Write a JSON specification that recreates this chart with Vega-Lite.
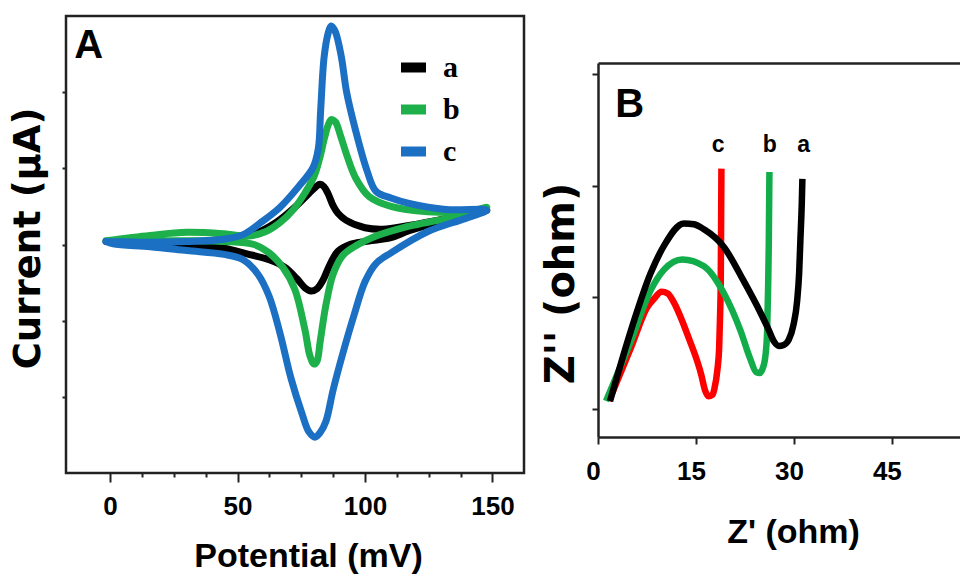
{
  "$schema": "https://vega.github.io/schema/vega-lite/v6.json",
  "background": "white",
  "padding": {"left": 7, "top": 14, "right": 0, "bottom": 0},
  "spacing": 15,
  "config": {
    "view": {"stroke": "#222222", "strokeWidth": 2.5},
    "axis": {"grid": false, "labelColor": "#000000", "titleColor": "#000000", "tickColor": "#222222", "domainColor": "#222222"}
  },
  "resolve": {"scale": {"x": "independent", "y": "independent", "color": "independent"}},
  "datasets": {
    "cv": [
      {"s": "a", "i": 1, "x": -1.6, "y": 0.4},
      {"s": "a", "i": 2, "x": 15.7, "y": 0.3},
      {"s": "a", "i": 3, "x": 30.2, "y": 0.3},
      {"s": "a", "i": 4, "x": 44.7, "y": 0.7},
      {"s": "a", "i": 5, "x": 56.5, "y": 1.4},
      {"s": "a", "i": 6, "x": 65.1, "y": 2.9},
      {"s": "a", "i": 7, "x": 72.5, "y": 4.9},
      {"s": "a", "i": 8, "x": 78.0, "y": 6.7},
      {"s": "a", "i": 9, "x": 80.8, "y": 7.6},
      {"s": "a", "i": 10, "x": 82.4, "y": 7.9},
      {"s": "a", "i": 11, "x": 83.9, "y": 7.6},
      {"s": "a", "i": 12, "x": 85.5, "y": 6.7},
      {"s": "a", "i": 13, "x": 87.5, "y": 5.1},
      {"s": "a", "i": 14, "x": 89.4, "y": 4.1},
      {"s": "a", "i": 15, "x": 92.5, "y": 3.2},
      {"s": "a", "i": 16, "x": 100.0, "y": 2.2},
      {"s": "a", "i": 17, "x": 107.1, "y": 2.0},
      {"s": "a", "i": 18, "x": 117.3, "y": 2.5},
      {"s": "a", "i": 19, "x": 131.8, "y": 3.4},
      {"s": "a", "i": 20, "x": 147.8, "y": 4.5},
      {"s": "a", "i": 21, "x": 131.8, "y": 3.2},
      {"s": "a", "i": 22, "x": 117.3, "y": 1.8},
      {"s": "a", "i": 23, "x": 110.2, "y": 0.9},
      {"s": "a", "i": 24, "x": 100.0, "y": 0.4},
      {"s": "a", "i": 25, "x": 94.1, "y": 0.0},
      {"s": "a", "i": 26, "x": 89.4, "y": -0.9},
      {"s": "a", "i": 27, "x": 86.3, "y": -2.6},
      {"s": "a", "i": 28, "x": 83.5, "y": -4.7},
      {"s": "a", "i": 29, "x": 81.2, "y": -5.8},
      {"s": "a", "i": 30, "x": 78.8, "y": -6.1},
      {"s": "a", "i": 31, "x": 76.5, "y": -5.7},
      {"s": "a", "i": 32, "x": 73.3, "y": -4.5},
      {"s": "a", "i": 33, "x": 68.6, "y": -3.0},
      {"s": "a", "i": 34, "x": 62.4, "y": -2.0},
      {"s": "a", "i": 35, "x": 53.3, "y": -1.2},
      {"s": "a", "i": 36, "x": 44.7, "y": -0.5},
      {"s": "a", "i": 37, "x": 30.2, "y": -0.1},
      {"s": "a", "i": 38, "x": 15.7, "y": 0.1},
      {"s": "a", "i": 39, "x": -1.6, "y": 0.4},
      {"s": "b", "i": 1, "x": -1.6, "y": 0.5},
      {"s": "b", "i": 2, "x": 15.7, "y": 1.2},
      {"s": "b", "i": 3, "x": 30.2, "y": 1.6},
      {"s": "b", "i": 4, "x": 44.7, "y": 1.4},
      {"s": "b", "i": 5, "x": 53.7, "y": 1.1},
      {"s": "b", "i": 6, "x": 60.4, "y": 1.6},
      {"s": "b", "i": 7, "x": 66.7, "y": 2.9},
      {"s": "b", "i": 8, "x": 72.2, "y": 4.7},
      {"s": "b", "i": 9, "x": 76.5, "y": 6.8},
      {"s": "b", "i": 10, "x": 80.0, "y": 8.9},
      {"s": "b", "i": 11, "x": 82.3, "y": 11.4},
      {"s": "b", "i": 12, "x": 84.2, "y": 14.1},
      {"s": "b", "i": 13, "x": 85.7, "y": 15.8},
      {"s": "b", "i": 14, "x": 86.8, "y": 16.4},
      {"s": "b", "i": 15, "x": 88.4, "y": 16.1},
      {"s": "b", "i": 16, "x": 90.4, "y": 14.3},
      {"s": "b", "i": 17, "x": 92.9, "y": 11.7},
      {"s": "b", "i": 18, "x": 96.4, "y": 8.7},
      {"s": "b", "i": 19, "x": 101.6, "y": 6.3},
      {"s": "b", "i": 20, "x": 110.2, "y": 5.0},
      {"s": "b", "i": 21, "x": 124.7, "y": 4.3},
      {"s": "b", "i": 22, "x": 139.2, "y": 4.3},
      {"s": "b", "i": 23, "x": 147.8, "y": 4.9},
      {"s": "b", "i": 24, "x": 131.8, "y": 3.4},
      {"s": "b", "i": 25, "x": 117.3, "y": 2.4},
      {"s": "b", "i": 26, "x": 102.7, "y": 0.9},
      {"s": "b", "i": 27, "x": 97.3, "y": 0.0},
      {"s": "b", "i": 28, "x": 91.4, "y": -1.4},
      {"s": "b", "i": 29, "x": 87.5, "y": -3.9},
      {"s": "b", "i": 30, "x": 84.7, "y": -7.9},
      {"s": "b", "i": 31, "x": 82.4, "y": -12.8},
      {"s": "b", "i": 32, "x": 81.2, "y": -15.3},
      {"s": "b", "i": 33, "x": 80.0, "y": -15.7},
      {"s": "b", "i": 34, "x": 78.4, "y": -14.6},
      {"s": "b", "i": 35, "x": 76.5, "y": -11.3},
      {"s": "b", "i": 36, "x": 72.5, "y": -5.9},
      {"s": "b", "i": 37, "x": 67.8, "y": -3.0},
      {"s": "b", "i": 38, "x": 62.4, "y": -1.1},
      {"s": "b", "i": 39, "x": 56.5, "y": 0.0},
      {"s": "b", "i": 40, "x": 44.7, "y": 0.4},
      {"s": "b", "i": 41, "x": 30.2, "y": 0.5},
      {"s": "b", "i": 42, "x": 15.7, "y": 0.5},
      {"s": "b", "i": 43, "x": -1.6, "y": 0.5},
      {"s": "c", "i": 1, "x": -1.6, "y": 0.4},
      {"s": "c", "i": 2, "x": 15.7, "y": 0.3},
      {"s": "c", "i": 3, "x": 30.2, "y": 0.4},
      {"s": "c", "i": 4, "x": 44.7, "y": 0.7},
      {"s": "c", "i": 5, "x": 52.2, "y": 1.3},
      {"s": "c", "i": 6, "x": 59.2, "y": 2.9},
      {"s": "c", "i": 7, "x": 66.7, "y": 4.9},
      {"s": "c", "i": 8, "x": 73.7, "y": 7.5},
      {"s": "c", "i": 9, "x": 79.6, "y": 10.1},
      {"s": "c", "i": 10, "x": 81.7, "y": 12.6},
      {"s": "c", "i": 11, "x": 82.6, "y": 17.5},
      {"s": "c", "i": 12, "x": 84.0, "y": 24.7},
      {"s": "c", "i": 13, "x": 85.6, "y": 27.8},
      {"s": "c", "i": 14, "x": 86.7, "y": 28.7},
      {"s": "c", "i": 15, "x": 88.3, "y": 28.0},
      {"s": "c", "i": 16, "x": 90.7, "y": 24.7},
      {"s": "c", "i": 17, "x": 92.8, "y": 20.0},
      {"s": "c", "i": 18, "x": 96.3, "y": 15.0},
      {"s": "c", "i": 19, "x": 100.8, "y": 9.7},
      {"s": "c", "i": 20, "x": 104.3, "y": 7.0},
      {"s": "c", "i": 21, "x": 110.2, "y": 6.1},
      {"s": "c", "i": 22, "x": 117.3, "y": 5.4},
      {"s": "c", "i": 23, "x": 131.8, "y": 4.6},
      {"s": "c", "i": 24, "x": 147.8, "y": 4.5},
      {"s": "c", "i": 25, "x": 139.2, "y": 3.4},
      {"s": "c", "i": 26, "x": 124.7, "y": 1.7},
      {"s": "c", "i": 27, "x": 110.2, "y": -1.1},
      {"s": "c", "i": 28, "x": 104.3, "y": -2.5},
      {"s": "c", "i": 29, "x": 100.0, "y": -4.9},
      {"s": "c", "i": 30, "x": 95.7, "y": -9.3},
      {"s": "c", "i": 31, "x": 91.4, "y": -14.2},
      {"s": "c", "i": 32, "x": 87.5, "y": -19.1},
      {"s": "c", "i": 33, "x": 84.7, "y": -23.2},
      {"s": "c", "i": 34, "x": 82.4, "y": -24.7},
      {"s": "c", "i": 35, "x": 80.4, "y": -25.3},
      {"s": "c", "i": 36, "x": 78.0, "y": -24.6},
      {"s": "c", "i": 37, "x": 75.3, "y": -22.2},
      {"s": "c", "i": 38, "x": 71.0, "y": -17.6},
      {"s": "c", "i": 39, "x": 66.7, "y": -11.7},
      {"s": "c", "i": 40, "x": 62.4, "y": -6.8},
      {"s": "c", "i": 41, "x": 58.0, "y": -3.9},
      {"s": "c", "i": 42, "x": 52.2, "y": -2.0},
      {"s": "c", "i": 43, "x": 44.7, "y": -1.3},
      {"s": "c", "i": 44, "x": 30.2, "y": -0.8},
      {"s": "c", "i": 45, "x": 15.7, "y": -0.3},
      {"s": "c", "i": 46, "x": 1.2, "y": 0.1},
      {"s": "c", "i": 47, "x": -1.6, "y": 0.4}
    ],
    "nyq": [
      {"s": "c", "x": 1.68, "y": 0.72},
      {"s": "c", "x": 5.01, "y": 5.44},
      {"s": "c", "x": 7.55, "y": 9.13},
      {"s": "c", "x": 8.58, "y": 9.88},
      {"s": "c", "x": 9.75, "y": 10.5},
      {"s": "c", "x": 10.7, "y": 10.35},
      {"s": "c", "x": 11.45, "y": 9.73},
      {"s": "c", "x": 13.9, "y": 6.36},
      {"s": "c", "x": 15.85, "y": 2.99},
      {"s": "c", "x": 16.35, "y": 1.76},
      {"s": "c", "x": 16.9, "y": 1.16},
      {"s": "c", "x": 17.55, "y": 1.3},
      {"s": "c", "x": 17.8, "y": 1.76},
      {"s": "c", "x": 18.3, "y": 3.6},
      {"s": "c", "x": 18.55, "y": 5.44},
      {"s": "c", "x": 18.7, "y": 8.5},
      {"s": "c", "x": 18.8, "y": 11.58},
      {"s": "c", "x": 18.9, "y": 21.54},
      {"s": "b", "x": 1.23, "y": 0.72},
      {"s": "b", "x": 5.01, "y": 6.05},
      {"s": "b", "x": 8.07, "y": 10.65},
      {"s": "b", "x": 10.11, "y": 12.49},
      {"s": "b", "x": 12.91, "y": 13.41},
      {"s": "b", "x": 16.23, "y": 12.8},
      {"s": "b", "x": 19.3, "y": 10.35},
      {"s": "b", "x": 21.85, "y": 6.98},
      {"s": "b", "x": 23.3, "y": 4.52},
      {"s": "b", "x": 24.25, "y": 3.29},
      {"s": "b", "x": 24.75, "y": 3.23},
      {"s": "b", "x": 25.2, "y": 3.6},
      {"s": "b", "x": 25.65, "y": 4.83},
      {"s": "b", "x": 25.9, "y": 6.98},
      {"s": "b", "x": 26.05, "y": 10.96},
      {"s": "b", "x": 26.15, "y": 14.64},
      {"s": "b", "x": 26.25, "y": 21.24},
      {"s": "a", "x": 1.84, "y": 0.72},
      {"s": "a", "x": 5.01, "y": 6.98},
      {"s": "a", "x": 8.07, "y": 12.18},
      {"s": "a", "x": 10.11, "y": 14.64},
      {"s": "a", "x": 13.17, "y": 16.63},
      {"s": "a", "x": 14.7, "y": 16.55},
      {"s": "a", "x": 16.23, "y": 16.1},
      {"s": "a", "x": 19.3, "y": 14.5},
      {"s": "a", "x": 22.2, "y": 11.59},
      {"s": "a", "x": 25.0, "y": 8.5},
      {"s": "a", "x": 26.0, "y": 7.28},
      {"s": "a", "x": 26.95, "y": 6.05},
      {"s": "a", "x": 27.7, "y": 5.66},
      {"s": "a", "x": 28.45, "y": 5.75},
      {"s": "a", "x": 29.2, "y": 6.2},
      {"s": "a", "x": 29.95, "y": 7.59},
      {"s": "a", "x": 30.5, "y": 9.73},
      {"s": "a", "x": 30.8, "y": 12.18},
      {"s": "a", "x": 31.0, "y": 15.26},
      {"s": "a", "x": 31.2, "y": 18.32},
      {"s": "a", "x": 31.3, "y": 20.62}
    ]
  },
  "hconcat": [
    {
      "width": 458,
      "height": 457,
      "encoding": {
        "x": {
          "field": "x", "type": "quantitative",
          "scale": {"domain": [-17.3, 162.4], "nice": false, "zero": false},
          "axis": {
            "values": [0, 12.5, 25, 37.5, 50, 62.5, 75, 87.5, 100, 112.5, 125, 137.5, 150],
            "labelExpr": "datum.value % 50 === 0 ? datum.label : ''",
            "labelOverlap": false, "labelFlush": false,
            "tickSize": {"condition": {"test": "datum.value % 50 === 0", "value": 9}, "value": 4},
            "tickWidth": 2, "domain": false,
            "labelFont": "Liberation Sans", "labelFontWeight": "bold", "labelFontSize": 26, "labelPadding": 11,
            "title": "Potential (mV)", "titleFont": "Liberation Sans", "titleFontWeight": "bold", "titleFontSize": 34,
            "titlePadding": 20, "titleX": 242
          }
        },
        "y": {
          "field": "y", "type": "quantitative",
          "scale": {"domain": [-30, 30], "nice": false, "zero": false},
          "axis": {
            "values": [-20, -10, 0, 10, 20], "labels": false, "tickSize": 4, "tickWidth": 2, "domain": false,
            "title": "Current (µA)", "titleFont": "DejaVu Sans", "titleFontWeight": "bold", "titleFontSize": 37,
            "titlePadding": 14, "titleY": 222
          }
        }
      },
      "layer": [
        {
          "data": {"name": "cv"},
          "mark": {"type": "line", "interpolate": "catmull-rom", "strokeWidth": 7, "strokeJoin": "round", "strokeCap": "round"},
          "encoding": {
            "color": {
              "field": "s", "type": "nominal",
              "scale": {"domain": ["a", "b", "c"], "range": ["#000000", "#1db04b", "#1b70c4"]},
              "legend": {
                "orient": "none", "legendX": 330, "legendY": 34, "title": null, "padding": 0,
                "symbolType": "stroke", "symbolSize": 625, "symbolStrokeWidth": 10,
                "labelFont": "Liberation Serif", "labelFontWeight": "bold", "labelFontSize": 30, "labelColor": "#000000",
                "labelOffset": 12, "rowPadding": 1
              }
            },
            "order": {"field": "i", "type": "quantitative"}
          }
        },
        {
          "data": {"values": [{"t": "A", "x": -8.4, "y": 26}]},
          "mark": {"type": "text", "font": "Liberation Sans", "fontWeight": "bold", "fontSize": 40, "align": "center", "baseline": "middle", "color": "#000000"},
          "encoding": {"text": {"field": "t"}}
        }
      ]
    },
    {
      "spacing": 0,
      "vconcat": [
        {"width": 1, "height": 47, "view": {"stroke": null}, "data": {"values": []}, "mark": "point"},
        {
          "width": 364,
          "height": 374,
          "view": {"stroke": null},
          "resolve": {"axis": {"x": "independent"}},
          "encoding": {
            "x": {
              "field": "x", "type": "quantitative",
              "scale": {"domain": [0, 55.74], "nice": false, "zero": false},
              "axis": {
                "orient": "bottom", "values": [0, 15, 30, 45], "tickSize": 7, "tickWidth": 2,
                "domain": true, "domainWidth": 2.5,
                "labelFont": "Liberation Sans", "labelFontWeight": "bold", "labelFontSize": 26, "labelPadding": 14,
                "labelOffset": -5,
                "labelFlush": false, "labelOverlap": false,
                "title": "Z' (ohm)", "titleFont": "Liberation Sans", "titleFontWeight": "bold", "titleFontSize": 34,
                "titlePadding": 31, "titleX": 195
              }
            },
            "y": {
              "field": "y", "type": "quantitative",
              "scale": {"domain": [-2.5, 31], "nice": false, "zero": false},
              "axis": {
                "values": [0, 10, 20, 30], "labels": false, "tickSize": 6, "tickWidth": 2,
                "domain": true, "domainWidth": 2.5,
                "title": "Z'' (ohm)", "titleFont": "DejaVu Sans", "titleFontWeight": "bold", "titleFontSize": 40,
                "titlePadding": 10, "titleY": 220
              }
            }
          },
          "layer": [
            {
              "data": {"name": "nyq"},
              "mark": {"type": "line", "interpolate": "monotone", "strokeWidth": 6.5, "strokeCap": "butt", "strokeJoin": "round"},
              "encoding": {
                "color": {
                  "field": "s", "type": "nominal",
                  "scale": {"domain": ["a", "b", "c"], "range": ["#000000", "#12ad4a", "#ff0000"]},
                  "legend": null
                }
              }
            },
            {
              "data": {"values": [{"t": "B", "x": 4.86, "y": 27.26}]},
              "mark": {"type": "text", "font": "Liberation Sans", "fontWeight": "bold", "fontSize": 40, "align": "center", "baseline": "middle", "color": "#000000"},
              "encoding": {
                "x": {"field": "x", "type": "quantitative", "axis": {"orient": "top", "labels": false, "ticks": false, "title": null, "domain": true, "domainWidth": 2.5}},
                "text": {"field": "t"}
              }
            },
            {
              "data": {"values": [{"t": "c", "x": 18.4, "y": 23.68}, {"t": "b", "x": 26.3, "y": 23.68}, {"t": "a", "x": 31.5, "y": 23.68}]},
              "mark": {"type": "text", "font": "Liberation Sans", "fontWeight": "bold", "fontSize": 23, "align": "center", "baseline": "middle", "color": "#000000"},
              "encoding": {
                "x": {"field": "x", "type": "quantitative", "axis": null},
                "text": {"field": "t"}
              }
            }
          ]
        }
      ]
    }
  ]
}
